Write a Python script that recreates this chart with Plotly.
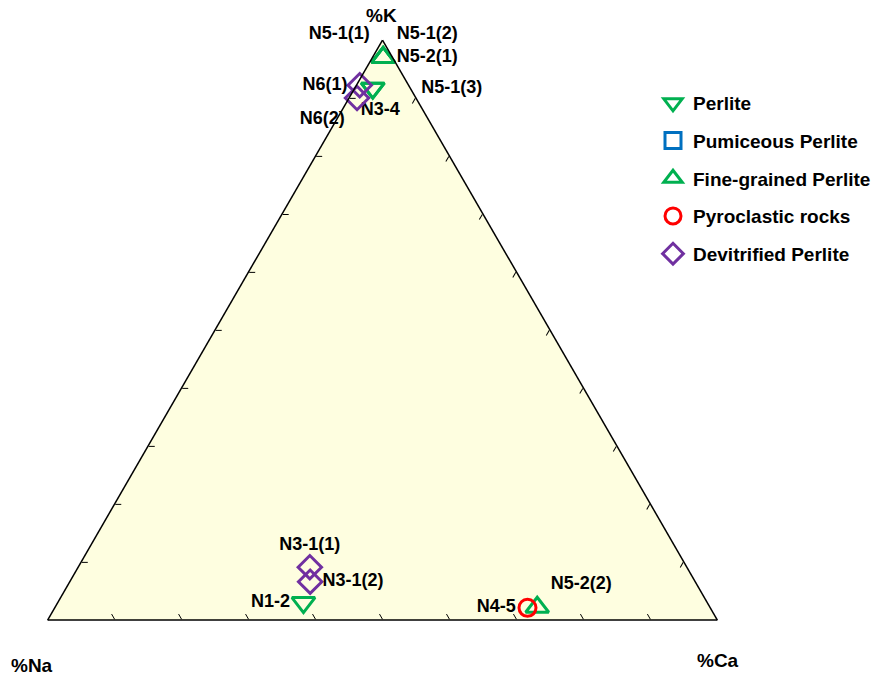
import plotly.graph_objects as go

# Sample data: (K, Na, Ca) fractions
perlite_names = ["N5-1(3)", "N3-4", "N1-2"]
perlite_K = [0.917, 0.917, 0.030]
perlite_Na = [0.056, 0.056, 0.603]
perlite_Ca = [0.027, 0.027, 0.367]

pumiceous_names = [""]
pumiceous_K = [None]
pumiceous_Na = [None]
pumiceous_Ca = [None]

fine_names = ["N5-1(1)", "N5-1(2)", "N5-2(1)", "N5-2(2)"]
fine_K = [0.970, 0.970, 0.970, 0.022]
fine_Na = [0.014, 0.014, 0.014, 0.258]
fine_Ca = [0.016, 0.016, 0.016, 0.720]

pyro_names = ["N4-5"]
pyro_K = [0.021]
pyro_Na = [0.273]
pyro_Ca = [0.706]

devit_names = ["N6(1)", "N6(2)", "N3-1(1)", "N3-1(2)"]
devit_K = [0.922, 0.900, 0.091, 0.066]
devit_Na = [0.073, 0.088, 0.563, 0.575]
devit_Ca = [0.005, 0.012, 0.346, 0.359]

FONT = "Liberation Sans"
label_font = dict(family=FONT, size=18, color="black", weight="bold")
SP = "\u00a0"

fig = go.Figure()

def add(name, K, Na, Ca, names, symbol, color, size, positions, group):
    fig.add_trace(go.Scatterternary(
        a=K, b=Na, c=Ca, name=name, text=names,
        mode="markers+text", textposition=positions,
        textfont=label_font,
        marker=dict(symbol=symbol, size=size, color=color,
                    line=dict(color=color, width=3)),
        legendgroup=group, cliponaxis=False, showlegend=True,
    ))

add("Perlite", perlite_K, perlite_Na, perlite_Ca,
    [SP * 7 + perlite_names[0], SP * 3 + perlite_names[1], perlite_names[2]],
    "triangle-down-open", "#00B050", 20,
    ["middle right", "bottom center", "middle left"], "g1")
add("Pumiceous Perlite", pumiceous_K, pumiceous_Na, pumiceous_Ca,
    pumiceous_names, "square-open", "#0070C0", 17, ["middle right"], "g2")
add("Fine-grained Perlite", fine_K, fine_Na, fine_Ca, fine_names,
    "triangle-up-open", "#00B050", 20,
    ["top left", "top right", "middle right", "top right"], "g3")
add("Pyroclastic rocks", pyro_K, pyro_Na, pyro_Ca, pyro_names,
    "circle-open", "#FF0000", 17, ["middle left"], "g4")
add("Devitrified Perlite", devit_K, devit_Na, devit_Ca, devit_names,
    "diamond-open", "#7030A0", 18,
    ["middle left", "bottom left", "top center", "middle right"], "g5")

axis_common = dict(
    showticklabels=False, ticks="inside", ticklen=6, tickcolor="black",
    tickwidth=1, dtick=0.1, tick0=0, showgrid=False,
    linecolor="black", linewidth=1.5, title=dict(text=""), min=0,
)

W, H = 889, 680
title_font = dict(family=FONT, size=19, weight="bold", color="black")
fig.update_layout(
    width=W, height=H,
    paper_bgcolor="white",
    margin=dict(l=0, r=0, t=0, b=0),
    ternary=dict(
        domain=dict(x=[47 / W, 718 / W], y=[(H - 620) / H, (H - 40) / H]),
        bgcolor="#FEFEE0",
        aaxis=axis_common, baxis=axis_common, caxis=axis_common,
        sum=1,
    ),
    legend=dict(
        x=653 / W, y=1 - 84 / H, xanchor="left", yanchor="top",
        font=dict(family=FONT, size=19, color="black", weight="bold"),
        tracegroupgap=10, bgcolor="rgba(0,0,0,0)",
    ),
    font=dict(family=FONT),
    showlegend=True,
    annotations=[
        dict(text="%K", x=381 / W, y=1 - 15 / H, xref="paper", yref="paper",
             xanchor="center", yanchor="middle",
             showarrow=False, font=title_font),
        dict(text="%Na", x=32 / W, y=1 - 665 / H, xref="paper", yref="paper",
             xanchor="center", yanchor="middle",
             showarrow=False, font=title_font),
        dict(text="%Ca", x=718 / W, y=1 - 660 / H, xref="paper", yref="paper",
             xanchor="center", yanchor="middle",
             showarrow=False, font=title_font),
    ],
)

fig.write_html("out.html", post_script="document.body.style.margin='0';",
               config={"displayModeBar": False})
